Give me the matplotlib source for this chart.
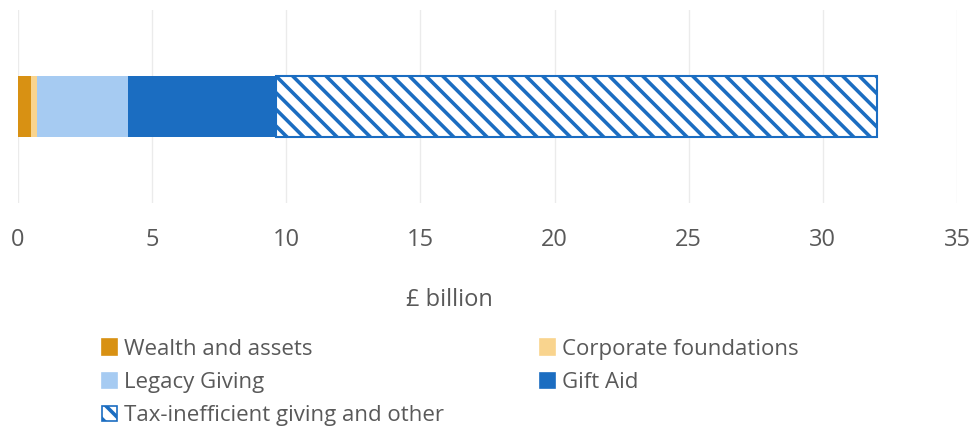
import matplotlib.pyplot as plt
from matplotlib.patches import Patch

# giving breakdown, £ billion
categories = ["Wealth and assets", "Corporate foundations", "Legacy Giving",
              "Gift Aid", "Tax-inefficient giving and other"]
values = [0.5, 0.2, 3.4, 5.5, 22.4]
colors = ["#D89113", "#F9D48E", "#A6CBF2", "#1B6DC1", "white"]
x_ticks = [0, 5, 10, 15, 20, 25, 30, 35]

TEXT_COLOR = "#595959"
BLUE = "#1B6DC1"

plt.rcParams['font.family'] = ['Open Sans', 'DejaVu Sans']
plt.rcParams['hatch.linewidth'] = 2.6

fig = plt.figure(figsize=(9.73, 4.26), dpi=100)
ax = fig.add_axes([18 / 973, 1 - 203 / 426, (957 - 18) / 973, 193 / 426])

left = 0
bars = []
for name, val, col in zip(categories, values, colors):
    if col == "white":
        b = ax.barh(0, val, left=left, height=0.316, color="white",
                    edgecolor=BLUE, hatch="\\\\", linewidth=1.5, label=name)
    else:
        b = ax.barh(0, val, left=left, height=0.316, color=col,
                    linewidth=0, label=name)
    bars.append(b)
    left += val

ax.set_xlim(0, 35)
ax.set_ylim(-0.5, 0.5)
ax.set_xticks(x_ticks)
ax.set_yticks([])
ax.tick_params(axis='x', length=0, pad=18, labelsize=17, labelcolor=TEXT_COLOR)
ax.grid(axis='x', color="#EBEBEB", linewidth=1)
ax.set_axisbelow(True)
for side in ax.spines.values():
    side.set_visible(False)

fig.text(449 / 973, 1 - 300 / 426, "£ billion", ha='center', va='center',
         fontsize=17, color=TEXT_COLOR)

# legend fills column-wise, so reorder to read row by row
handles = [Patch(facecolor=c, edgecolor=(BLUE if c == "white" else c),
                 hatch=("\\\\" if c == "white" else None), linewidth=1.2)
           for c in colors]
order = [0, 2, 4, 1, 3]
leg = fig.legend([handles[i] for i in order], [categories[i] for i in order],
                 ncol=2, loc='upper left', bbox_to_anchor=(93 / 973, 1 - 330 / 426),
                 frameon=False, fontsize=16, labelcolor=TEXT_COLOR,
                 handlelength=0.7, handleheight=0.7, handletextpad=0.3,
                 labelspacing=0.55, columnspacing=4.3, borderaxespad=0)

fig.savefig("out.png", dpi=100)
